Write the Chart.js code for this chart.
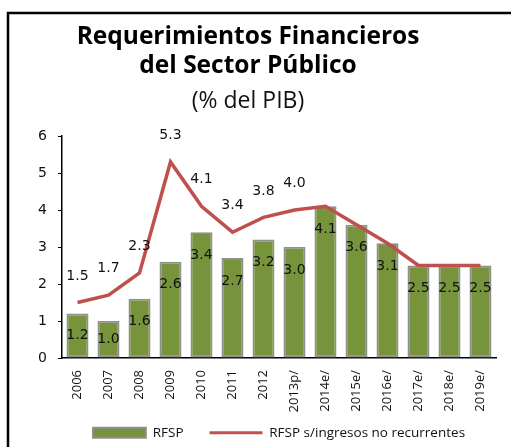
<!DOCTYPE html>
<html>
<head>
<meta charset="utf-8">
<script src="https://cdn.jsdelivr.net/npm/chart.js@4"></script>
<style>
  html, body { margin: 0; padding: 0; background: #fff; }
  #wrap { width: 511px; height: 447px; }
</style>
</head>
<body>
<div id="wrap"><canvas id="rfsp"></canvas></div>
<script>
'use strict';

// ─── Data ─────────────────────────────────────────────────────────────────────
const years    = ['2006', '2007', '2008', '2009', '2010', '2011', '2012',
                  '2013p/', '2014e/', '2015e/', '2016e/', '2017e/', '2018e/', '2019e/'];
const rfsp     = [1.2, 1.0, 1.6, 2.6, 3.4, 2.7, 3.2, 3.0, 4.1, 3.6, 3.1, 2.5, 2.5, 2.5];
const rfspSinNoRec = [1.5, 1.7, 2.3, 5.3, 4.1, 3.4, 3.8, 4.0, 4.1, 3.6, 3.1, 2.5, 2.5, 2.5];
const lineLabelCount = 8;           // only 2006–2013p/ get labels on the line
const yTicks   = [0, 1, 2, 3, 4, 5, 6];

const GREEN = '#77933c';
const RED   = '#c0504d';
const INK   = '#111';

// ─── Frame: black rule along top and left edges ──────────────────────────────
const framePlugin = {
  id: 'frame',
  beforeDraw(chart) {
    const { ctx, width, height } = chart;
    ctx.save();
    ctx.strokeStyle = '#000';
    ctx.lineWidth = 2.5;
    ctx.beginPath();
    ctx.moveTo(8, height);
    ctx.lineTo(8, 13);
    ctx.lineTo(width, 13);
    ctx.stroke();
    ctx.restore();
  },
};

// x labels run down into the legend band; widen the x scale's clip box
const xLabelRoom = {
  id: 'xLabelRoom',
  afterLayout(chart) {
    const x = chart.scales.x;
    x.bottom = x.top + 64;
  },
};

// ─── Value labels: inside bar tops, above the line points ────────────────────
const valueLabels = {
  id: 'valueLabels',
  afterDatasetsDraw(chart) {
    const { ctx } = chart;
    ctx.save();
    ctx.font = '14px "DejaVu Sans"';
    ctx.fillStyle = INK;
    ctx.textAlign = 'center';
    ctx.textBaseline = 'middle';

    const bars = chart.getDatasetMeta(0);
    bars.data.forEach((bar, i) => {
      const y = Math.min(bar.y + 23, (bar.y + bar.base) / 2);
      ctx.fillText(rfsp[i].toFixed(1), bar.x, y);
    });

    const line = chart.getDatasetMeta(1);
    line.data.slice(0, lineLabelCount).forEach((pt, i) => {
      ctx.fillText(rfspSinNoRec[i].toFixed(1), pt.x, pt.y - 26.5);
    });
    ctx.restore();
  },
};

new Chart(document.getElementById('rfsp'), {
  type: 'bar',
  data: {
    labels: years,
    datasets: [
      {
        label:           'RFSP',
        data:            rfsp,
        backgroundColor: GREEN,
        borderColor:     '#8f8f8f',
        borderWidth:     1.8,
        borderSkipped:   false,
        barPercentage:   0.71,
        categoryPercentage: 1,
        pointStyle:      'rect',
        order:           1,
      },
      {
        type:            'line',
        label:           'RFSP s/ingresos no recurrentes',
        data:            rfspSinNoRec,
        borderColor:     RED,
        backgroundColor: RED,
        borderWidth:     3.5,
        pointRadius:     0,
        pointBorderWidth: 3,
        pointStyle:      'line',
        tension:         0,
        order:           0,
      },
    ],
  },
  options: {
    responsive:          true,
    maintainAspectRatio: false,
    animation:           false,
    layout: { padding: { top: 0, left: 0, right: 15, bottom: 0 } },
    plugins: {
      title: {
        display: true,
        text:    ['Requerimientos Financieros', 'del Sector Público'],
        color:   '#000',
        font:    { family: 'Open Sans', size: 24.5, weight: 'bold', lineHeight: 1.19 },
        padding: { top: 22, bottom: 8 },
      },
      subtitle: {
        display: true,
        text:    '(% del PIB)',
        color:   INK,
        font:    { family: 'Open Sans', size: 23, lineHeight: 1.074 },
        padding: { top: 1, bottom: 22 },
      },
      legend: {
        position: 'bottom',
        fullSize: false,
        maxHeight: 47,
        labels: {
          usePointStyle:   true,
          pointStyleWidth: 53,
          boxHeight:       10,
          padding:         26,
          color:           INK,
          font:            { family: 'Open Sans', size: 13.5 },
          sort:            (a, b) => a.datasetIndex - b.datasetIndex,
        },
      },
      tooltip: { enabled: false },
    },
    scales: {
      x: {
        grid:   { display: false, drawTicks: false },
        border: { color: '#000', width: 1.5 },
        ticks:  {
          color: INK,
          font:  { family: 'Open Sans', size: 13 },
          maxRotation: 90,
          minRotation: 90,
          padding: 12,
          autoSkip: false,
        },
        afterFit: (scale) => { scale.height = 42; },
      },
      y: {
        min: 0,
        max: 6,
        grid:   { drawOnChartArea: false, drawTicks: true, tickLength: 4, color: '#000' },
        border: { color: '#000', width: 1.5 },
        ticks:  {
          stepSize: 1,
          color: INK,
          font:  { family: 'DejaVu Sans', size: 14 },
          padding: 11,
          callback: (v) => (yTicks.includes(v) ? String(v) : ''),
        },
        afterFit: (scale) => { scale.width = 62; },
      },
    },
  },
  plugins: [framePlugin, xLabelRoom, valueLabels],
});
</script>
</body>
</html>
